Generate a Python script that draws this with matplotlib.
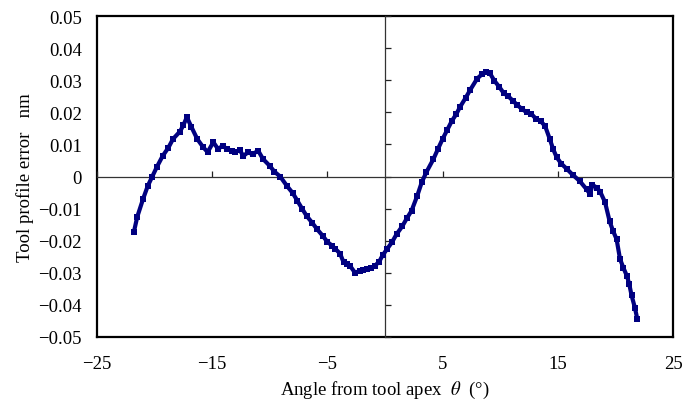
"""Tool profile error vs angle from tool apex"""
import matplotlib
matplotlib.use('Agg')
import matplotlib.pyplot as plt

plt.rcParams['font.family'] = ['Liberation Serif', 'DejaVu Serif']
plt.rcParams['mathtext.fontset'] = 'stix'

# values
angle = [-21.8, -21.5, -21.0, -20.6, -20.2, -19.8, -19.3, -18.8, -18.4, -17.8,
         -17.5, -17.2, -16.8, -16.3, -15.8, -15.4, -14.9, -14.5, -14.1, -13.7,
         -13.3, -13.0, -12.6, -12.3, -11.9, -11.5, -11.0, -10.6, -10.0, -9.6,
         -9.1, -8.5, -8.0, -7.6, -7.2, -6.8, -6.3, -5.9, -5.4, -5.0,
         -4.6, -4.3, -3.9, -3.6, -3.3, -3.0, -2.6, -2.2, -1.9, -1.6,
         -1.2, -0.9, -0.5, -0.2, 0.2, 0.6, 1.0, 1.5, 1.9, 2.3,
         2.8, 3.2, 3.6, 4.2, 4.6, 5.0, 5.4, 5.8, 6.2, 6.5,
         7.0, 7.4, 8.0, 8.4, 8.8, 9.1, 9.5, 9.9, 10.3, 10.7,
         11.1, 11.5, 11.9, 12.3, 12.7, 13.1, 13.5, 13.9, 14.3, 14.6,
         14.9, 15.3, 15.8, 16.3, 16.9, 17.5, 17.8, 18.0, 18.4, 18.7,
         19.1, 19.5, 19.8, 20.1, 20.4, 20.7, 21.0, 21.2, 21.4, 21.7, 21.9]
error = [-0.0173, -0.0125, -0.0070, -0.0030, 0.0000, 0.0030, 0.0064, 0.0090, 0.0117, 0.0140,
         0.0160, 0.0185, 0.0154, 0.0117, 0.0092, 0.0076, 0.0107, 0.0086, 0.0095, 0.0086,
         0.0080, 0.0076, 0.0082, 0.0064, 0.0075, 0.0070, 0.0080, 0.0055, 0.0033, 0.0015,
         0.0000, -0.0030, -0.0052, -0.0076, -0.0100, -0.0123, -0.0145, -0.0164, -0.0185, -0.0204,
         -0.0215, -0.0226, -0.0240, -0.0267, -0.0272, -0.0280, -0.0300, -0.0294, -0.0290, -0.0288,
         -0.0285, -0.0279, -0.0265, -0.0245, -0.0225, -0.0205, -0.0180, -0.0155, -0.0130, -0.0107,
         -0.0060, -0.0017, 0.0014, 0.0054, 0.0086, 0.0117, 0.0145, 0.0173, 0.0195, 0.0216,
         0.0245, 0.0270, 0.0305, 0.0318, 0.0325, 0.0322, 0.0298, 0.0280, 0.0260, 0.0250,
         0.0236, 0.0222, 0.0210, 0.0200, 0.0195, 0.0180, 0.0173, 0.0157, 0.0117, 0.0085,
         0.0060, 0.0040, 0.0023, 0.0005, -0.0014, -0.0040, -0.0055, -0.0026, -0.0035, -0.0049,
         -0.0080, -0.0140, -0.0170, -0.0195, -0.0257, -0.0285, -0.0310, -0.0335, -0.0370, -0.0410, -0.0444]

x_ticks = [-25, -15, -5, 5, 15, 25]
y_ticks = [-0.05, -0.04, -0.03, -0.02, -0.01, 0, 0.01, 0.02, 0.03, 0.04, 0.05]
y_labels = ['\u22120.05', '\u22120.04', '\u22120.03', '\u22120.02', '\u22120.01', '0',
            '0.01', '0.02', '0.03', '0.04', '0.05']
x_labels = ['\u221225', '\u221215', '\u22125', '5', '15', '25']

fig = plt.figure(figsize=(6.85, 4.14), dpi=100)
rect = [0.1416, 0.1836, 0.8409, 0.7753]

# outer frame with the tick labels
ax = fig.add_axes(rect)
ax.set_xlim(-25, 25)
ax.set_ylim(-0.05, 0.05)
ax.set_xticks(x_ticks)
ax.set_xticklabels(x_labels)
ax.set_yticks(y_ticks)
ax.set_yticklabels(y_labels)
ax.tick_params(axis='x', length=0, pad=13, labelsize=13.5)
ax.tick_params(axis='y', length=0, pad=11, labelsize=13.5)
for s in ax.spines.values():
    s.set_linewidth(1.6)
ax.set_xlabel(r'Angle from tool apex  $\theta$  (°)', fontsize=13.5, labelpad=5)
ax.set_ylabel('Tool profile error   nm', fontsize=13.5, labelpad=3)

# crossing axes at the origin, with inward ticks
ax2 = fig.add_axes(rect, sharex=ax, sharey=ax)
ax2.patch.set_visible(False)
ax2.spines['left'].set_position(('data', 0))
ax2.spines['bottom'].set_position(('data', 0))
ax2.spines['right'].set_visible(False)
ax2.spines['top'].set_visible(False)
for side in ['left', 'bottom']:
    ax2.spines[side].set_linewidth(0.9)
    ax2.spines[side].set_color('#333333')
ax2.tick_params(direction='in', length=4, width=0.9, color='#222222',
                labelbottom=False, labelleft=False)
ax.tick_params(labelbottom=True, labelleft=True)

ax2.plot(angle, error, color='#000080', linewidth=3.0, marker='s',
         markersize=4.2, markeredgewidth=0, zorder=3)

fig.savefig('out.png', dpi=100)
